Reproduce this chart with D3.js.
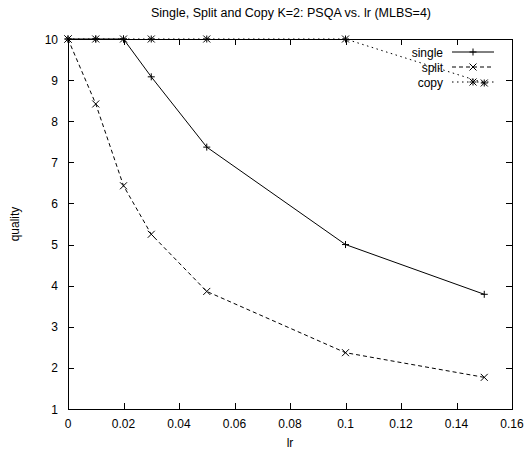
<!DOCTYPE html>
<html>
<head>
<meta charset="utf-8">
<script src="https://cdn.jsdelivr.net/npm/d3@7"></script>
<style>
  body { margin: 0; background: #fff; }
  text { font-family: "Liberation Sans", Arial, sans-serif; font-size: 12px; fill: #000; }
</style>
</head>
<body>
<script>
// data
var lr = [0, 0.01, 0.02, 0.03, 0.05, 0.1, 0.15];
var single = [10, 10, 10, 9.08, 7.37, 5.0, 3.79];
var split = [10, 8.42, 6.43, 5.25, 3.86, 2.37, 1.77];
var copy = [10, 10, 10, 10, 10, 10, 8.93];
var xTicks = [0, 0.02, 0.04, 0.06, 0.08, 0.1, 0.12, 0.14, 0.16];
var yTicks = [1, 2, 3, 4, 5, 6, 7, 8, 9, 10];

var width = 529, height = 453;
var plotL = 68, plotR = 512, plotT = 39, plotB = 409;

var x = d3.scaleLinear().domain([0, 0.16]).range([plotL, plotR]),
    y = d3.scaleLinear().domain([1, 10]).range([plotB, plotT]);

var svg = d3.select("body").append("svg")
    .attr("width", width)
    .attr("height", height);

// ticks (gnuplot style: inward, mirrored)
var tl = 6;
var g = svg.append("g").attr("stroke", "#000").attr("stroke-width", 1);
xTicks.forEach(function(t) {
  var px = Math.round(x(t)) + 0.5;
  g.append("line").attr("x1", px).attr("x2", px).attr("y1", plotB).attr("y2", plotB - tl);
  g.append("line").attr("x1", px).attr("x2", px).attr("y1", plotT).attr("y2", plotT + tl);
});
yTicks.forEach(function(t) {
  var py = Math.round(y(t)) + 0.5;
  g.append("line").attr("x1", plotL).attr("x2", plotL + tl).attr("y1", py).attr("y2", py);
  g.append("line").attr("x1", plotR).attr("x2", plotR - tl).attr("y1", py).attr("y2", py);
});

svg.append("rect")
    .attr("x", plotL + 0.5).attr("y", plotT + 0.5)
    .attr("width", plotR - plotL).attr("height", plotB - plotT)
    .attr("fill", "none").attr("stroke", "#000");

// tick labels
svg.selectAll(".xl").data(xTicks).enter().append("text")
    .attr("class", "xl")
    .attr("x", function(d) { return x(d); })
    .attr("y", plotB + 19)
    .attr("text-anchor", "middle")
    .text(function(d) { return d; });
svg.selectAll(".yl").data(yTicks).enter().append("text")
    .attr("class", "yl")
    .attr("x", plotL - 10)
    .attr("y", function(d) { return y(d) + 4.5; })
    .attr("text-anchor", "end")
    .text(function(d) { return d; });

// titles
svg.append("text").attr("x", 291).attr("y", 17).attr("text-anchor", "middle")
    .style("font-size", "12.5px")
    .text("Single, Split and Copy K=2: PSQA vs. lr (MLBS=4)");
svg.append("text").attr("x", 290).attr("y", 447).attr("text-anchor", "middle").text("lr");
svg.append("text").attr("transform", "translate(19," + ((plotT + plotB) / 2) + ") rotate(-90)")
    .attr("text-anchor", "middle").text("quality");

// markers
function plus(px, py, s) { return "M" + (px - s) + "," + py + "H" + (px + s) + "M" + px + "," + (py - s) + "V" + (py + s); }
function cross(px, py, s) { return "M" + (px - s) + "," + (py - s) + "L" + (px + s) + "," + (py + s) + "M" + (px - s) + "," + (py + s) + "L" + (px + s) + "," + (py - s); }
function star(px, py, s) { return plus(px, py, s) + cross(px, py, s); }

var series = [
  {name: "single", values: single, dash: null, mark: plus, ly: 52},
  {name: "split", values: split, dash: "4,3", mark: cross, ly: 67},
  {name: "copy", values: copy, dash: "1.5,3.5", mark: star, ly: 82}
];

var line = d3.line()
    .x(function(d) { return x(d[0]); })
    .y(function(d) { return y(d[1]); });

series.forEach(function(s) {
  var pts = lr.map(function(v, i) { return [v, s.values[i]]; });
  svg.append("path")
      .datum(pts)
      .attr("d", line)
      .attr("fill", "none").attr("stroke", "#000").attr("stroke-width", 1)
      .attr("stroke-dasharray", s.dash);
  svg.append("path")
      .attr("d", pts.map(function(p) { return s.mark(x(p[0]), y(p[1]), 3.5); }).join(""))
      .attr("fill", "none").attr("stroke", "#000").attr("stroke-width", 1);

  // legend
  svg.append("text").attr("x", 443).attr("y", s.ly + 4.5).attr("text-anchor", "end").text(s.name);
  svg.append("line").attr("x1", 452).attr("x2", 494).attr("y1", s.ly).attr("y2", s.ly)
      .attr("stroke", "#000").attr("stroke-dasharray", s.dash);
  svg.append("path").attr("d", s.mark(473, s.ly, 3.5))
      .attr("fill", "none").attr("stroke", "#000");
});
</script>
</body>
</html>
